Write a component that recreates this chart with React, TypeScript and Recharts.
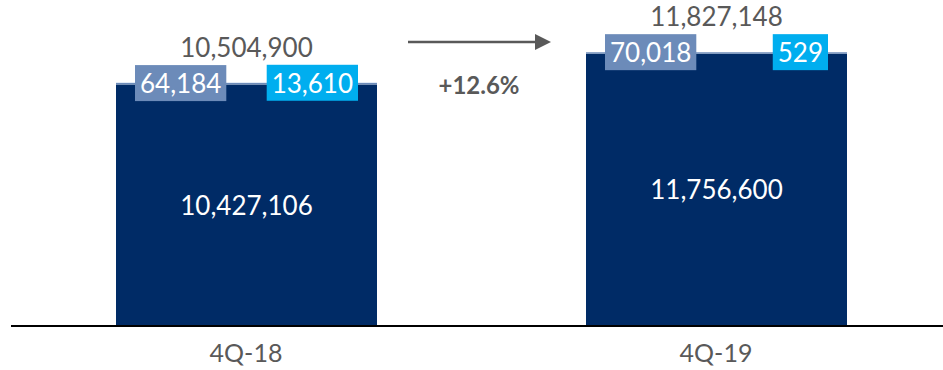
import { Bar, BarChart, Customized, LabelList, XAxis, YAxis } from 'recharts'

const categories = ['4Q-18', '4Q-19']
const baseValues = [10427106, 11756600]
const midValues = [64184, 70018]
const topValues = [13610, 529]
const totals = [10504900, 11827148]
const growthLabel = '+12.6%'

const data = categories.map((q, i) => ({
  q,
  base: baseValues[i],
  mid: midValues[i],
  top: topValues[i],
  total: totals[i],
}))

const FONT = 'Lato, "Open Sans", sans-serif'
const NAVY = '#002B66'
const STEEL = '#6C8BB9'
const CYAN = '#00AEEF'
const GREY = '#595959'

const fmt = (v: number) => v.toLocaleString('en-US')

let ctx: CanvasRenderingContext2D | null = null
function textWidth(s: string, size: number) {
  if (!ctx) ctx = document.createElement('canvas').getContext('2d')
  if (!ctx) return s.length * size * 0.55
  ctx.font = `${size}px ${FONT}`
  return ctx.measureText(s).width
}

function BoxLabel(props: any, fill: string, side: 'left' | 'right') {
  const { x, y, width, value } = props
  const text = fmt(Number(value))
  const w = textWidth(text, 26) + 10
  const bx = side === 'left' ? x + 19 : x + width - 19 - w
  return (
    <g>
      <rect x={bx} y={y - 18} width={w} height={36} fill={fill} />
      <text
        x={bx + w / 2}
        y={y}
        textAnchor="middle"
        dominantBaseline="central"
        fill="#fff"
        fontSize={26}
        fontFamily={FONT}
      >
        {text}
      </text>
    </g>
  )
}

function Growth() {
  return (
    <g>
      <line x1={408} y1={42} x2={538} y2={42} stroke={GREY} strokeWidth={2.5} />
      <polygon points="535,34 551,42 535,50" fill={GREY} />
      <text
        x={479}
        y={84}
        textAnchor="middle"
        dominantBaseline="central"
        fill={GREY}
        fontSize={24}
        fontWeight="bold"
        fontFamily={FONT}
      >
        {growthLabel}
      </text>
    </g>
  )
}

export default function App() {
  return (
    <div style={{ position: 'absolute', left: 0, top: 0, width: 943, height: 370, overflow: 'hidden', background: '#fff' }}>
      <BarChart width={952} height={370} data={data} margin={{ top: 0, right: 1, bottom: 0, left: 11 }} barSize={261}>
        <XAxis
          dataKey="q"
          height={44}
          tickLine={false}
          axisLine={{ stroke: '#000', strokeWidth: 2 }}
          tickMargin={12}
          tick={{ fontSize: 25, fill: GREY, fontFamily: FONT }}
        />
        <YAxis hide domain={[0, 14080000]} />
        <Bar dataKey="base" stackId="a" fill={NAVY} isAnimationActive={false}>
          <LabelList
            dataKey="base"
            position="center"
            formatter={(v: any) => fmt(Number(v))}
            style={{ fontSize: 26, fill: '#fff', fontFamily: FONT }}
          />
        </Bar>
        <Bar dataKey="mid" stackId="a" fill={STEEL} isAnimationActive={false}>
          <LabelList dataKey="mid" content={(p: any) => BoxLabel(p, STEEL, 'left')} />
        </Bar>
        <Bar dataKey="top" stackId="a" fill="#8FB4DE" isAnimationActive={false}>
          <LabelList dataKey="top" content={(p: any) => BoxLabel(p, CYAN, 'right')} />
          <LabelList
            dataKey="total"
            content={(p: any) => (
              <text
                x={p.x + p.width / 2}
                y={p.y - 36}
                textAnchor="middle"
                dominantBaseline="central"
                fill={GREY}
                fontSize={26}
                fontFamily={FONT}
              >
                {fmt(Number(p.value))}
              </text>
            )}
          />
        </Bar>
        <Customized component={Growth} />
      </BarChart>
    </div>
  )
}
